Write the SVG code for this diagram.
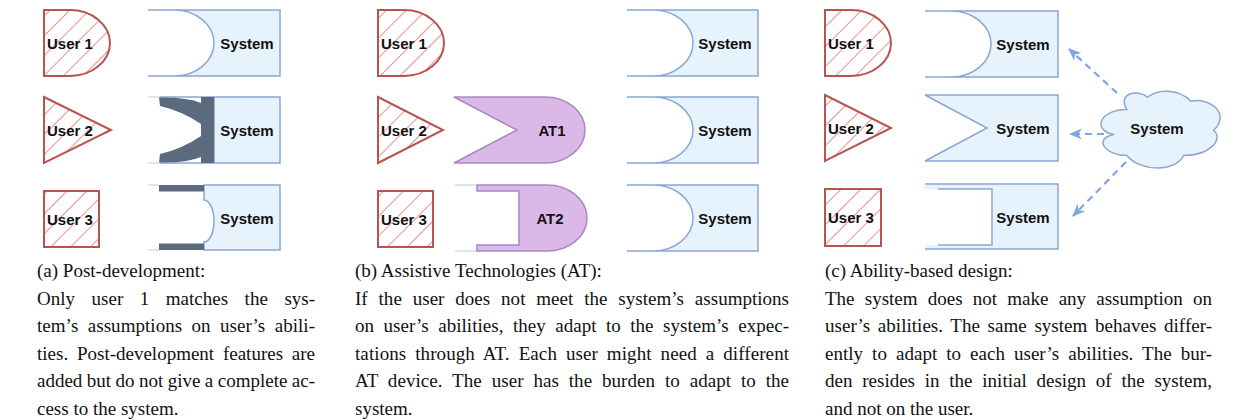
<svg xmlns="http://www.w3.org/2000/svg" width="1235" height="420" viewBox="0 0 1235 420">
<defs>
<pattern id="hatch" patternUnits="userSpaceOnUse" width="14" height="14" patternTransform="rotate(45)">
<rect width="14" height="14" fill="#ffffff"/>
<line x1="0" y1="0" x2="0" y2="14" stroke="#e8938e" stroke-width="2"/>
</pattern>
<marker id="ah" viewBox="0 0 12 12" refX="11" refY="6" markerWidth="13" markerHeight="13" markerUnits="userSpaceOnUse" orient="auto">
<path d="M0,1 L12,6 L0,11 L3.5,6 Z" fill="#7ea6e0"/>
</marker>
</defs>
<style>
.user{fill:url(#hatch);stroke:#b85450;stroke-width:2}
.sys{fill:#e6f2fc;stroke:#8aa6d2;stroke-width:1.5}
.edge{fill:none;stroke:#8aa6d2;stroke-width:1.5}
.faint{fill:none;stroke:#d6dde8;stroke-width:1.5}
.dark{fill:#5b6b7d;stroke:none}
.at{fill:#dab8e8;stroke:#a987c2;stroke-width:1.5}
.lbl{font-family:"Liberation Sans",Arial,sans-serif;font-weight:bold;font-size:15px;fill:#111}
.mid{text-anchor:middle}
.cap{font-family:"Liberation Serif","Times New Roman",serif;font-size:19px;fill:#111}
.conn{fill:none;stroke:#7ea6e0;stroke-width:2.2;stroke-dasharray:7 5}
</style>
<rect width="1235" height="420" fill="#ffffff"/>

<!-- Panel (a) -->
<g id="a-user1"><path class="user" d="M44,10 H70 A40,33 0 0 1 70,76 H44 Z"/><text class="lbl" x="47" y="48.5">User 1</text></g>
<g id="a-user2"><path class="user" d="M44,97 L111,130 L44,163 Z"/><text class="lbl" x="47" y="135.5">User 2</text></g>
<g id="a-user3"><rect class="user" x="44" y="191" width="55" height="56"/><text class="lbl" x="47" y="224.5">User 3</text></g>

<g id="a-system1"><path class="sys" d="M174,10 H280 V76 H174 A40,33 0 0 0 174,10 Z"/><path class="edge" d="M148,10 H174 M148,76 H174"/><text class="lbl mid" x="247" y="48.5">System</text></g>
<g id="a-system2"><path class="sys" d="M214,97 H280 V163 H214 Z"/><path class="faint" d="M148,97 H160 M148,163 H160"/><path class="edge" d="M160,97 H214 M160,163 H214"/>
<rect class="dark" x="201" y="97" width="13" height="66"/>
<path class="dark" d="M159,97.5 Q187,97 201,103 L201,124 Q182,111 160,106 Z"/>
<path class="dark" d="M159,162.5 Q187,163 201,157 L201,136 Q182,149 160,154 Z"/>
<text class="lbl mid" x="247" y="135.5">System</text></g>
<g id="a-system3"><path class="sys" d="M204,185 H280 V250 H204 V242 A10,21 0 0 0 204,200 Z"/><path class="faint" d="M148,185 H159 M148,250 H159"/>
<rect class="dark" x="159" y="185" width="45" height="6.5"/><rect class="dark" x="159" y="243.5" width="45" height="6.5"/>
<text class="lbl mid" x="247" y="223.5">System</text></g>

<!-- Panel (b) -->
<g id="b-user1"><path class="user" d="M378,10 H404 A40,33 0 0 1 404,76 H378 Z"/><text class="lbl" x="381" y="48.5">User 1</text></g>
<g id="b-user2"><path class="user" d="M378,97 L443,130 L378,163 Z"/><text class="lbl" x="381" y="135.5">User 2</text></g>
<g id="b-user3"><rect class="user" x="378" y="191" width="55" height="56"/><text class="lbl" x="381" y="224.5">User 3</text></g>

<g id="b-at1"><path class="at" d="M454,97 H545 A40,33 0 0 1 545,163 H454 L517,130 Z"/><text class="lbl mid" x="552" y="135.5">AT1</text></g>
<g id="b-at2"><path class="faint" d="M455,185 H477 M455,251 H477"/><path class="at" d="M477,185 H547 A40,33 0 0 1 547,251 H477 V245 H519 V191 H477 Z"/><text class="lbl mid" x="550" y="223.5">AT2</text></g>

<g id="b-system1"><path class="sys" d="M653,10 H758 V76 H653 A40,33 0 0 0 653,10 Z"/><path class="edge" d="M627,10 H653 M627,76 H653"/><text class="lbl mid" x="725" y="48.5">System</text></g>
<g id="b-system2"><path class="sys" d="M653,97 H758 V163 H653 A40,33 0 0 0 653,97 Z"/><path class="edge" d="M627,97 H653 M627,163 H653"/><text class="lbl mid" x="725" y="135.5">System</text></g>
<g id="b-system3"><path class="sys" d="M653,185 H758 V251 H653 A40,33 0 0 0 653,185 Z"/><path class="edge" d="M627,185 H653 M627,251 H653"/><text class="lbl mid" x="725" y="223.5">System</text></g>

<!-- Panel (c) -->
<g id="c-user1"><path class="user" d="M825,10 H851 A40,33 0 0 1 851,76 H825 Z"/><text class="lbl" x="828" y="48.5">User 1</text></g>
<g id="c-user2"><path class="user" d="M825,95 L891,128 L825,161 Z"/><text class="lbl" x="828" y="133.5">User 2</text></g>
<g id="c-user3"><rect class="user" x="825" y="189" width="56" height="57"/><text class="lbl" x="828" y="222.5">User 3</text></g>

<g id="c-system1"><path class="sys" d="M951,11 H1058 V77 H951 A40,33 0 0 0 951,11 Z"/><path class="edge" d="M925,11 H951 M925,77 H951"/><text class="lbl mid" x="1023" y="49.5">System</text></g>
<g id="c-system2"><path class="sys" d="M925,95 H1058 V161 H925 L987,128 Z"/><text class="lbl mid" x="1023" y="133.5">System</text></g>
<g id="c-system3"><path d="M925,184 H1058 V249 H925 Z" fill="#e6f2fc"/><path class="edge" d="M925,184 H1058 V249 H925"/><rect x="925" y="189" width="67" height="56" fill="#ffffff"/><path class="edge" d="M938,189 H992 V245 H938"/><text class="lbl mid" x="1023" y="222.5">System</text></g>

<g id="c-cloud"><path class="sys" d="M1126.8,109.6 C1099,109.6 1092,130.5 1114.2,134.6 C1092,138.8 1105.9,155.5 1126.8,155.5 C1140.7,172.2 1175.4,172.2 1183.7,155.5 C1210.2,155.5 1224.1,138.8 1213.6,130.5 C1231,113.8 1210.2,97.1 1190.7,101.2 C1178.9,88.7 1158,88.7 1147.6,97.1 C1137.9,88.7 1117,92.9 1126.8,109.6 Z"/><text class="lbl mid" x="1157" y="133.5">System</text></g>

<g id="connectors">
<path class="conn" d="M1117,93 L1069,49" marker-end="url(#ah)"/>
<path class="conn" d="M1104,134 L1070,134" marker-end="url(#ah)"/>
<path class="conn" d="M1126,162 L1073,216" marker-end="url(#ah)"/>
</g>

<!-- Captions -->
<g id="caption-a" class="cap">
<text x="37" y="277">(a) Post-development:</text>
<text x="37" y="304.5" word-spacing="11.8" textLength="278" lengthAdjust="spacing">Only user 1 matches the sys-</text>
<text x="37" y="332" word-spacing="4.6" textLength="278" lengthAdjust="spacing">tem’s assumptions on user’s abili-</text>
<text x="37" y="359.5" word-spacing="4" textLength="278" lengthAdjust="spacing">ties. Post-development features are</text>
<text x="37" y="387" word-spacing="-0.3" textLength="278" lengthAdjust="spacing">added but do not give a complete ac-</text>
<text x="37" y="414.5">cess to the system.</text>
</g>
<g id="caption-b" class="cap">
<text x="355" y="277">(b) Assistive Technologies (AT):</text>
<text x="355" y="304.5" word-spacing="6.1" textLength="434" lengthAdjust="spacing">If the user does not meet the system’s assumptions</text>
<text x="355" y="332" word-spacing="4.7" textLength="434" lengthAdjust="spacing">on user’s abilities, they adapt to the system’s expec-</text>
<text x="355" y="359.5" word-spacing="4.1" textLength="434" lengthAdjust="spacing">tations through AT. Each user might need a different</text>
<text x="355" y="387" word-spacing="5" textLength="434" lengthAdjust="spacing">AT device. The user has the burden to adapt to the</text>
<text x="355" y="414.5">system.</text>
</g>
<g id="caption-c" class="cap">
<text x="825" y="277">(c) Ability-based design:</text>
<text x="825" y="304.5" word-spacing="5.5" textLength="387" lengthAdjust="spacing">The system does not make any assumption on</text>
<text x="825" y="332" word-spacing="2.85" textLength="387" lengthAdjust="spacing">user’s abilities. The same system behaves differ-</text>
<text x="825" y="359.5" word-spacing="4.2" textLength="387" lengthAdjust="spacing">ently to adapt to each user’s abilities. The bur-</text>
<text x="825" y="387" word-spacing="5" textLength="387" lengthAdjust="spacing">den resides in the initial design of the system,</text>
<text x="825" y="414.5">and not on the user.</text>
</g>
</svg>
